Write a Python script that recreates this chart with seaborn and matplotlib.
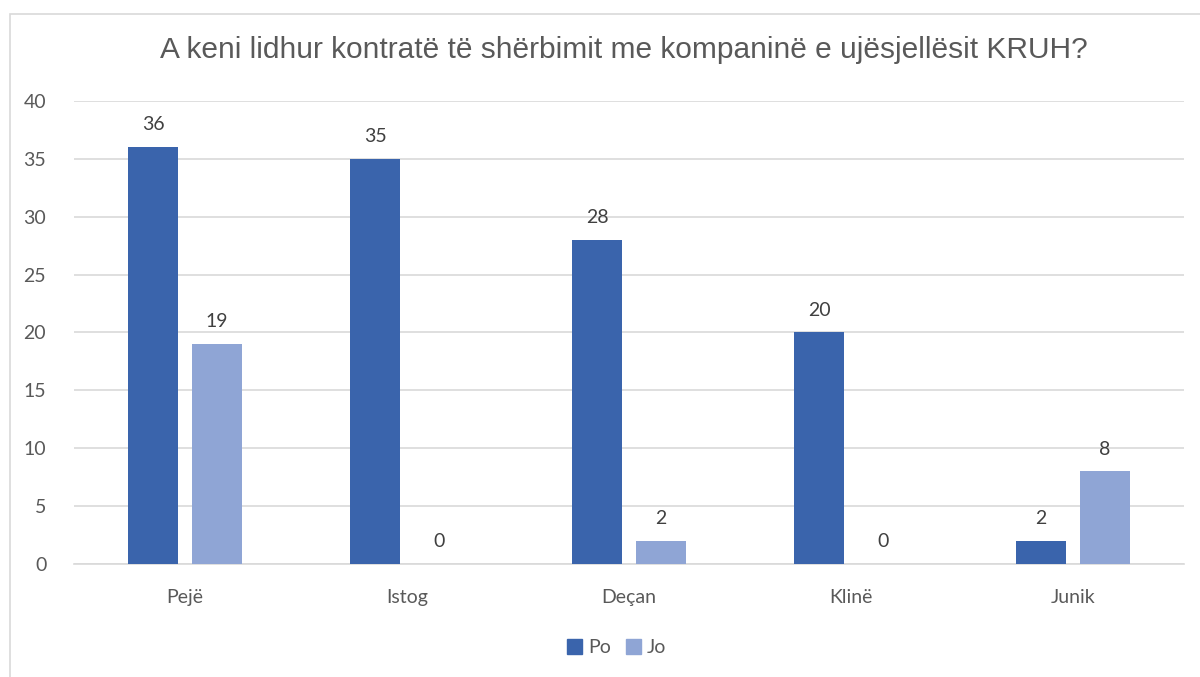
import pandas as pd
import matplotlib.pyplot as plt
import seaborn as sns
from matplotlib.patches import Rectangle

# values
categories = ["Pejë", "Istog", "Deçan", "Klinë", "Junik"]
po_values = [36, 35, 28, 20, 2]
jo_values = [19, 0, 2, 0, 8]
series = ["Po", "Jo"]
colors = ["#3A64AC", "#8FA5D5"]

df = pd.DataFrame({
    "category": categories * 2,
    "value": po_values + jo_values,
    "series": ["Po"] * len(categories) + ["Jo"] * len(categories),
})

sns.set_style("white")
plt.rcParams["font.family"] = ["Lato", "DejaVu Sans"]

fig = plt.figure(figsize=(12, 6.77), dpi=100)
ax = fig.add_axes([0.0617, 0.1669, 0.925, 0.684])

sns.barplot(data=df, x="category", y="value", hue="series", hue_order=series,
            palette=colors, width=0.577, gap=0.219, saturation=1, ax=ax,
            legend=False, zorder=3, linewidth=0)

for cont in ax.containers:
    ax.bar_label(cont, padding=10, fontsize=14, color="#404040")

ax.set_ylim(0, 40)
ax.set_xlim(-0.5, 4.5)
ax.set_yticks(range(0, 41, 5))
ax.yaxis.grid(True, color="#D9D9D9", linewidth=1.2, zorder=0)
ax.set_xlabel("")
ax.set_ylabel("")
for s in ["top", "right", "left"]:
    ax.spines[s].set_visible(False)
ax.spines["bottom"].set_color("#D9D9D9")
ax.spines["bottom"].set_linewidth(1.2)
ax.tick_params(axis="both", length=0, labelsize=14, labelcolor="#595959")
ax.tick_params(axis="x", pad=18)
ax.tick_params(axis="y", pad=20)

fig.text(0.52, 0.926, "A keni lidhur kontratë të shërbimit me kompaninë e ujësjellësit KRUH?",
         ha="center", va="center", fontsize=21.5, color="#595959",
         family=["Liberation Sans", "DejaVu Sans"])

# legend
handles = [Rectangle((0, 0), 1, 1, color=c) for c in colors]
fig.legend(handles, series, loc="center", bbox_to_anchor=(0.514, 0.043), ncol=2,
           frameon=False, fontsize=14, handlelength=0.75, handleheight=0.75,
           handletextpad=0.3, columnspacing=0.8, labelcolor="#595959")

# chart border
fig.patches.append(Rectangle((10 / 1200, -0.01), 1.02, 1 - 14 / 677 + 0.01,
                             transform=fig.transFigure, fill=False,
                             edgecolor="#D9D9D9", linewidth=1.2))

fig.savefig("out.png", dpi=100)
